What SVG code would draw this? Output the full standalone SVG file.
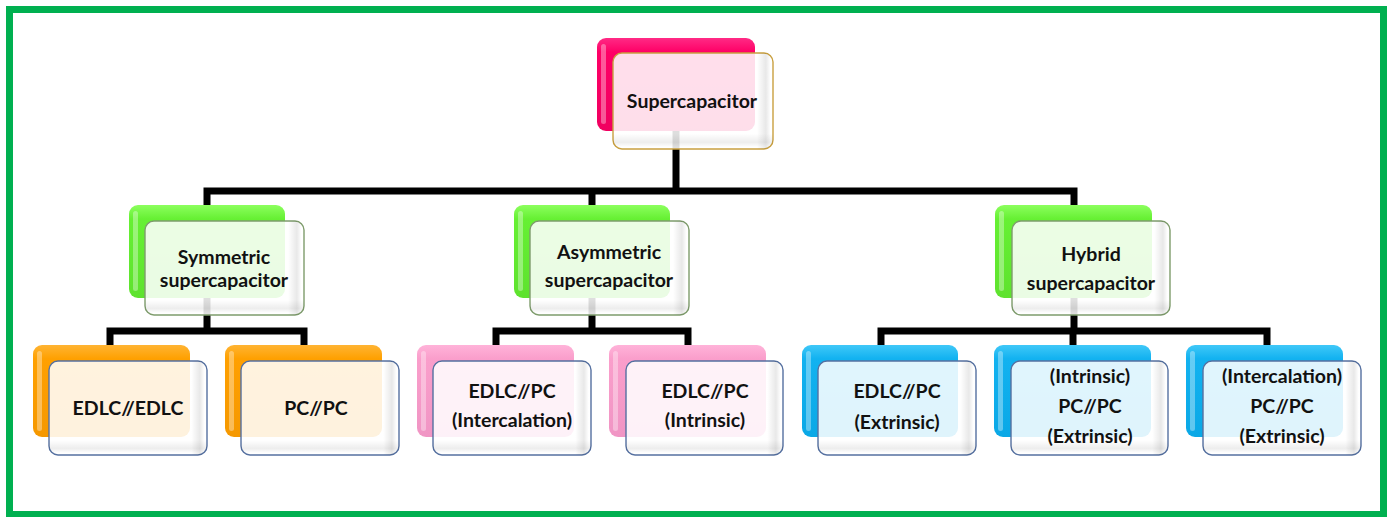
<svg xmlns="http://www.w3.org/2000/svg" width="1387" height="517" viewBox="0 0 1387 517">
<defs>
<linearGradient id="gPink" x1="0" y1="0" x2="0" y2="1"><stop offset="0" stop-color="#FF2A85"/><stop offset="0.15" stop-color="#FF0066"/><stop offset="1" stop-color="#F00060"/></linearGradient>
<linearGradient id="gGreen" x1="0" y1="0" x2="0" y2="1"><stop offset="0" stop-color="#8CFF5E"/><stop offset="0.15" stop-color="#66F033"/><stop offset="1" stop-color="#5EE22E"/></linearGradient>
<linearGradient id="gOrange" x1="0" y1="0" x2="0" y2="1"><stop offset="0" stop-color="#FFB433"/><stop offset="0.15" stop-color="#FFA000"/><stop offset="1" stop-color="#F59800"/></linearGradient>
<linearGradient id="gRose" x1="0" y1="0" x2="0" y2="1"><stop offset="0" stop-color="#FFB3D9"/><stop offset="0.15" stop-color="#FA9ECB"/><stop offset="1" stop-color="#F095C4"/></linearGradient>
<linearGradient id="gBlue" x1="0" y1="0" x2="0" y2="1"><stop offset="0" stop-color="#40C8F8"/><stop offset="0.15" stop-color="#12B2F0"/><stop offset="1" stop-color="#0AA8E6"/></linearGradient>
<linearGradient id="shR" x1="0" y1="0" x2="1" y2="0"><stop offset="0.9" stop-color="#000" stop-opacity="0"/><stop offset="0.955" stop-color="#000" stop-opacity="0.09"/><stop offset="0.985" stop-color="#000" stop-opacity="0"/></linearGradient>
<linearGradient id="shB" x1="0" y1="0" x2="0" y2="1"><stop offset="0.84" stop-color="#000" stop-opacity="0"/><stop offset="0.93" stop-color="#000" stop-opacity="0.07"/><stop offset="0.98" stop-color="#000" stop-opacity="0"/></linearGradient>
</defs>
<style>
.t{font-family:Lato,"Open Sans","Liberation Sans",sans-serif;font-weight:bold;font-size:19.5px;fill:#111;text-anchor:middle}
.front{fill:#fff;fill-opacity:0.87;stroke-width:1.4}
.hl{fill:#fff;opacity:0.35}
.conn{fill:none;stroke:#000;stroke-width:7;stroke-linejoin:miter}
.sh{stroke:none}
</style>
<rect x="9.5" y="9.5" width="1374" height="505" fill="#fff" stroke="#00B050" stroke-width="7"/>

<g id="connectors">
<path class="conn" d="M676 131 V191"/>
<path class="conn" d="M207 205 V191 H1074 V205"/>
<path class="conn" d="M592 191 V205"/>
<path class="conn" d="M207 298 V331"/>
<path class="conn" d="M110 345 V331 H304 V345"/>
<path class="conn" d="M592 298 V331"/>
<path class="conn" d="M496 345 V331 H688 V345"/>
<path class="conn" d="M1074 298 V331"/>
<path class="conn" d="M881 345 V331 H1267 V345"/>
<path class="conn" d="M1073 331 V345"/>
</g>

<g id="n-supercapacitor">
<rect x="597" y="38" width="158" height="93" rx="9" fill="url(#gPink)"/>
<rect class="hl" x="601" y="44" width="5" height="80" rx="2.5"/>
<rect class="front" x="613" y="53" width="160" height="96" rx="9" stroke="#C9A040"/>
<rect class="sh" x="613" y="53" width="160" height="96" rx="9" fill="url(#shR)"/>
<rect class="sh" x="613" y="53" width="160" height="96" rx="9" fill="url(#shB)"/>
<text class="t" x="692" y="108">Supercapacitor</text>
</g>

<g id="n-symmetric">
<rect x="129" y="205" width="156" height="93" rx="9" fill="url(#gGreen)"/>
<rect class="hl" x="133" y="211" width="5" height="80" rx="2.5"/>
<rect class="front" x="145" y="221" width="159" height="94" rx="9" stroke="#7E9C6C"/>
<rect class="sh" x="145" y="221" width="159" height="94" rx="9" fill="url(#shR)"/>
<rect class="sh" x="145" y="221" width="159" height="94" rx="9" fill="url(#shB)"/>
<text class="t" x="224" y="264">Symmetric</text>
<text class="t" x="224" y="287">supercapacitor</text>
</g>

<g id="n-asymmetric">
<rect x="514" y="205" width="156" height="93" rx="9" fill="url(#gGreen)"/>
<rect class="hl" x="518" y="211" width="5" height="80" rx="2.5"/>
<rect class="front" x="530" y="221" width="159" height="94" rx="9" stroke="#7E9C6C"/>
<rect class="sh" x="530" y="221" width="159" height="94" rx="9" fill="url(#shR)"/>
<rect class="sh" x="530" y="221" width="159" height="94" rx="9" fill="url(#shB)"/>
<text class="t" x="609" y="259">Asymmetric</text>
<text class="t" x="609" y="287">supercapacitor</text>
</g>

<g id="n-hybrid">
<rect x="995" y="205" width="157" height="93" rx="9" fill="url(#gGreen)"/>
<rect class="hl" x="999" y="211" width="5" height="80" rx="2.5"/>
<rect class="front" x="1012" y="221" width="158" height="94" rx="9" stroke="#7E9C6C"/>
<rect class="sh" x="1012" y="221" width="158" height="94" rx="9" fill="url(#shR)"/>
<rect class="sh" x="1012" y="221" width="158" height="94" rx="9" fill="url(#shB)"/>
<text class="t" x="1091" y="261">Hybrid</text>
<text class="t" x="1091" y="290">supercapacitor</text>
</g>

<g id="n-edlc-edlc">
<rect x="33" y="345" width="157" height="92" rx="9" fill="url(#gOrange)"/>
<rect class="hl" x="37" y="351" width="5" height="80" rx="2.5"/>
<rect class="front" x="49" y="361" width="158" height="94" rx="9" stroke="#5570A0"/>
<rect class="sh" x="49" y="361" width="158" height="94" rx="9" fill="url(#shR)"/>
<rect class="sh" x="49" y="361" width="158" height="94" rx="9" fill="url(#shB)"/>
<text class="t" x="128" y="415">EDLC//EDLC</text>
</g>

<g id="n-pc-pc">
<rect x="225" y="345" width="157" height="92" rx="9" fill="url(#gOrange)"/>
<rect class="hl" x="229" y="351" width="5" height="80" rx="2.5"/>
<rect class="front" x="241" y="361" width="158" height="94" rx="9" stroke="#5570A0"/>
<rect class="sh" x="241" y="361" width="158" height="94" rx="9" fill="url(#shR)"/>
<rect class="sh" x="241" y="361" width="158" height="94" rx="9" fill="url(#shB)"/>
<text class="t" x="316" y="415">PC//PC</text>
</g>

<g id="n-edlc-pc-intercalation">
<rect x="417" y="345" width="157" height="92" rx="9" fill="url(#gRose)"/>
<rect class="hl" x="421" y="351" width="5" height="80" rx="2.5"/>
<rect class="front" x="433" y="361" width="158" height="94" rx="9" stroke="#5570A0"/>
<rect class="sh" x="433" y="361" width="158" height="94" rx="9" fill="url(#shR)"/>
<rect class="sh" x="433" y="361" width="158" height="94" rx="9" fill="url(#shB)"/>
<text class="t" x="512" y="398">EDLC//PC</text>
<text class="t" x="512" y="427">(Intercalation)</text>
</g>

<g id="n-edlc-pc-intrinsic">
<rect x="609" y="345" width="157" height="92" rx="9" fill="url(#gRose)"/>
<rect class="hl" x="613" y="351" width="5" height="80" rx="2.5"/>
<rect class="front" x="626" y="361" width="157" height="94" rx="9" stroke="#5570A0"/>
<rect class="sh" x="626" y="361" width="157" height="94" rx="9" fill="url(#shR)"/>
<rect class="sh" x="626" y="361" width="157" height="94" rx="9" fill="url(#shB)"/>
<text class="t" x="705" y="398">EDLC//PC</text>
<text class="t" x="705" y="427">(Intrinsic)</text>
</g>

<g id="n-edlc-pc-extrinsic">
<rect x="802" y="345" width="156" height="92" rx="9" fill="url(#gBlue)"/>
<rect class="hl" x="806" y="351" width="5" height="80" rx="2.5"/>
<rect class="front" x="818" y="361" width="158" height="94" rx="9" stroke="#5570A0"/>
<rect class="sh" x="818" y="361" width="158" height="94" rx="9" fill="url(#shR)"/>
<rect class="sh" x="818" y="361" width="158" height="94" rx="9" fill="url(#shB)"/>
<text class="t" x="897" y="398">EDLC//PC</text>
<text class="t" x="897" y="429">(Extrinsic)</text>
</g>

<g id="n-intrinsic-pc-pc-extrinsic">
<rect x="994" y="345" width="157" height="92" rx="9" fill="url(#gBlue)"/>
<rect class="hl" x="998" y="351" width="5" height="80" rx="2.5"/>
<rect class="front" x="1011" y="361" width="157" height="94" rx="9" stroke="#5570A0"/>
<rect class="sh" x="1011" y="361" width="157" height="94" rx="9" fill="url(#shR)"/>
<rect class="sh" x="1011" y="361" width="157" height="94" rx="9" fill="url(#shB)"/>
<text class="t" x="1090" y="383">(Intrinsic)</text>
<text class="t" x="1090" y="413">PC//PC</text>
<text class="t" x="1090" y="443">(Extrinsic)</text>
</g>

<g id="n-intercalation-pc-pc-extrinsic">
<rect x="1186" y="345" width="157" height="92" rx="9" fill="url(#gBlue)"/>
<rect class="hl" x="1190" y="351" width="5" height="80" rx="2.5"/>
<rect class="front" x="1203" y="361" width="158" height="94" rx="9" stroke="#5570A0"/>
<rect class="sh" x="1203" y="361" width="158" height="94" rx="9" fill="url(#shR)"/>
<rect class="sh" x="1203" y="361" width="158" height="94" rx="9" fill="url(#shB)"/>
<text class="t" x="1282" y="383">(Intercalation)</text>
<text class="t" x="1282" y="413">PC//PC</text>
<text class="t" x="1282" y="443">(Extrinsic)</text>
</g>
</svg>
